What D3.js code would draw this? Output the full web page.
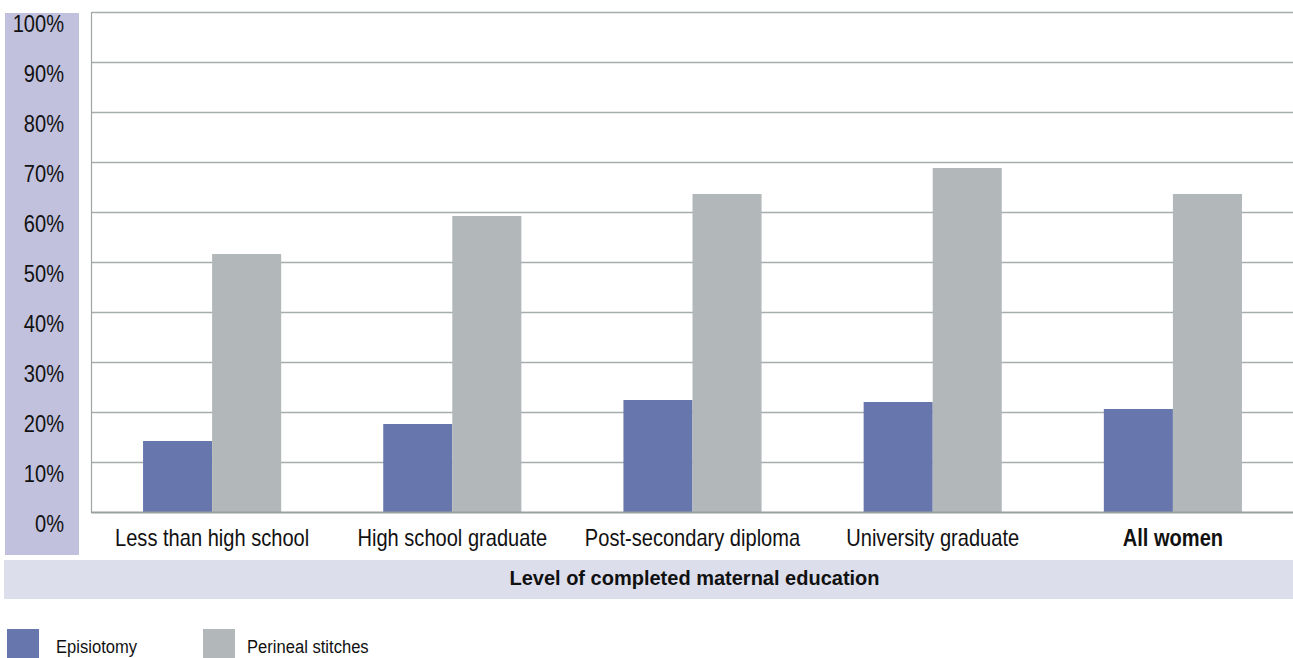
<!DOCTYPE html>
<html>
<head>
<meta charset="utf-8">
<script src="https://cdn.jsdelivr.net/npm/d3@7"></script>
<style>
  html, body { margin: 0; padding: 0; background: #fff; }
  svg { display: block; }
  text { font-family: "Liberation Sans Narrow", "Arial Narrow", "Liberation Sans", Arial, sans-serif; fill: #111; }
</style>
</head>
<body>
<svg id="chart" width="1293" height="658"></svg>
<script>
const categories = ["Less than high school", "High school graduate", "Post-secondary diploma", "University graduate", "All women"];
const seriesNames = ["Episiotomy", "Perineal stitches"];
const episiotomy = [14.2, 17.6, 22.4, 22.0, 20.6];
const perinealStitches = [51.6, 59.2, 63.6, 68.8, 63.6];
const yTicks = [0, 10, 20, 30, 40, 50, 60, 70, 80, 90, 100];
const xTitle = "Level of completed maternal education";
const colors = ["#6776ad", "#b2b7ba"];

const svg = d3.select("#chart");
const W = 1293, H = 658;
const plot = { left: 92, right: 1293, top: 12, bottom: 512 };
const SX = 0.873; // horizontal condensing to mimic a condensed face

const x0 = d3.scaleBand().domain(categories).range([plot.left, plot.right]).paddingInner(0.425).paddingOuter(0.2125);
const x1 = d3.scaleBand().domain(seriesNames).range([0, x0.bandwidth()]);
const y = d3.scaleLinear().domain([0, 100]).range([plot.bottom, plot.top]);

// background bands
svg.append("rect").attr("x", 5).attr("y", 13).attr("width", 74).attr("height", 542).attr("fill", "#c1c1dd");
svg.append("rect").attr("x", 4).attr("y", 560).attr("width", W - 4).attr("height", 39).attr("fill", "#dcdeec");

// gridlines
svg.append("g").selectAll("line").data(yTicks.filter(d => d > 0)).join("line")
  .attr("x1", plot.left).attr("x2", plot.right)
  .attr("y1", d => y(d) + 0.5).attr("y2", d => y(d) + 0.5)
  .attr("stroke", "#a6adad").attr("stroke-width", 1.6);

// y tick labels
svg.append("g").selectAll("text").data(yTicks).join("text")
  .attr("transform", d => `translate(64,${y(d) + 20}) scale(${SX},1)`)
  .attr("text-anchor", "end").attr("font-size", 23)
  .text(d => d + "%");

// bars
const data = categories.map((c, i) => ({ cat: c, vals: [episiotomy[i], perinealStitches[i]] }));
const groups = svg.append("g").selectAll("g").data(data).join("g")
  .attr("transform", d => `translate(${x0(d.cat)},0)`);
groups.selectAll("rect").data(d => d.vals.map((v, j) => ({ s: seriesNames[j], v, j }))).join("rect")
  .attr("x", d => x1(d.s)).attr("width", x1.bandwidth())
  .attr("y", d => y(d.v)).attr("height", d => y(0) - y(d.v))
  .attr("fill", d => colors[d.j]);

// axis lines
svg.append("line").attr("x1", plot.left - 0.5).attr("x2", plot.left - 0.5).attr("y1", plot.top).attr("y2", plot.bottom + 1)
  .attr("stroke", "#9ea3a3").attr("stroke-width", 1.2);
svg.append("line").attr("x1", plot.left - 1).attr("x2", plot.right).attr("y1", plot.bottom + 0.5).attr("y2", plot.bottom + 0.5)
  .attr("stroke", "#9a9fa0").attr("stroke-width", 2.2);

// category labels
svg.append("g").selectAll("text").data(categories).join("text")
  .attr("transform", d => `translate(${x0(d) + x0.bandwidth() / 2},546) scale(${SX},1)`)
  .attr("text-anchor", "middle").attr("font-size", 23)
  .attr("font-weight", (d, i) => i === categories.length - 1 ? "bold" : "normal")
  .text(d => d);

// x title
svg.append("text").attr("x", (plot.left + plot.right) / 2 + 2).attr("y", 585)
  .attr("text-anchor", "middle").attr("font-size", 20).attr("font-weight", "bold")
  .text(xTitle);

// legend
const legendX = [7, 203];
const lg = svg.append("g").selectAll("g").data(seriesNames).join("g")
  .attr("transform", (d, i) => `translate(${legendX[i]},629)`);
lg.append("rect").attr("width", 32).attr("height", 32).attr("fill", (d, i) => colors[i]);
lg.append("text")
  .attr("transform", (d, i) => `translate(${i === 0 ? 49 : 44},24) scale(${SX},1)`)
  .attr("font-size", 19).text(d => d);
</script>
</body>
</html>
